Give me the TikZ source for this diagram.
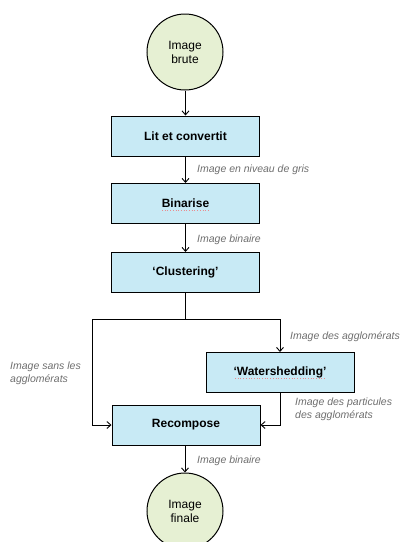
\documentclass[tikz,border=0pt]{standalone}
\usepackage{fontspec}
\setmainfont{Liberation Sans}
\usetikzlibrary{arrows.meta}
\definecolor{boxfill}{HTML}{C8EAF5}
\definecolor{circfill}{HTML}{E6F0D3}
\definecolor{lblgray}{HTML}{6E6E6E}
\tikzset{
  stepbox/.style={draw=black, line width=1pt, fill=boxfill, minimum width=148pt, minimum height=40pt, inner sep=0pt, font=\fontsize{12}{14}\selectfont\bfseries},
  termcirc/.style={draw=black, line width=1pt, fill=circfill, circle, minimum size=76pt, inner sep=0pt, align=center, font=\fontsize{12}{14}\selectfont},
  conn/.style={line width=0.9pt, -{Straight Barb[length=4pt,width=7pt,line width=0.9pt]}},
  plain/.style={line width=0.9pt},
  lbl/.style={text=lblgray, font=\fontsize{10.5}{13}\selectfont\itshape, inner sep=0pt, align=left},
  squig/.style={red!70, line width=0.7pt, dotted, opacity=0.6}
}
\begin{document}
\begin{tikzpicture}[x=1pt,y=-1pt]
\useasboundingbox (0,0) rectangle (402,542);
\clip (0,0) rectangle (402,542);
\node[termcirc] (start) at (185,52) {Image\\brute};
\node[stepbox] (lit) at (185.5,136) {Lit et convertit};
\node[stepbox] (bin) at (185.5,203.5) {Binarise};
\node[stepbox] (clust) at (185.5,272.5) {‘Clustering’};
\node[stepbox] (ws) at (280,372.5) {‘Watershedding’};
\node[stepbox] (rec) at (186,425) {Recompose};
\node[termcirc] (fin) at (185,511) {Image\\finale};
\coordinate (jn) at (185.5,319);
\coordinate (lft) at (92,319);
\coordinate (rgt) at (280,319);

\draw[conn] (start.south -| lit.north) -- (lit.north);
\draw[conn] (lit) -- (bin);
\draw[conn] (bin) -- (clust);
\draw[plain] (clust) -- (jn);
\draw[conn] (jn) -- (lft) |- (rec.west);
\draw[conn] (jn) -- (rgt) -- (ws.north);
\draw[conn] (ws.south) |- (rec.east);
\draw[conn] (rec.south -| fin.north) -- (fin.north);

\node[lbl, anchor=west] (l1) at (197,170) {Image en niveau de gris};
\node[lbl, anchor=west] (l2) at (197,240) {Image binaire};
\node[lbl, anchor=west] (l3) at (290,337) {Image des agglomérats};
\node[lbl, anchor=west] (l4) at (10,373.5) {Image sans les\\agglomérats};
\node[lbl, anchor=west] (l5) at (295,409.5) {Image des particules\\des agglomérats};
\node[lbl, anchor=west] (l6) at (197,461) {Image binaire};

\draw[squig] (162,210.5) -- (210,210.5);
\draw[squig] (235,378.5) -- (326,378.5);
\end{tikzpicture}
\end{document}
